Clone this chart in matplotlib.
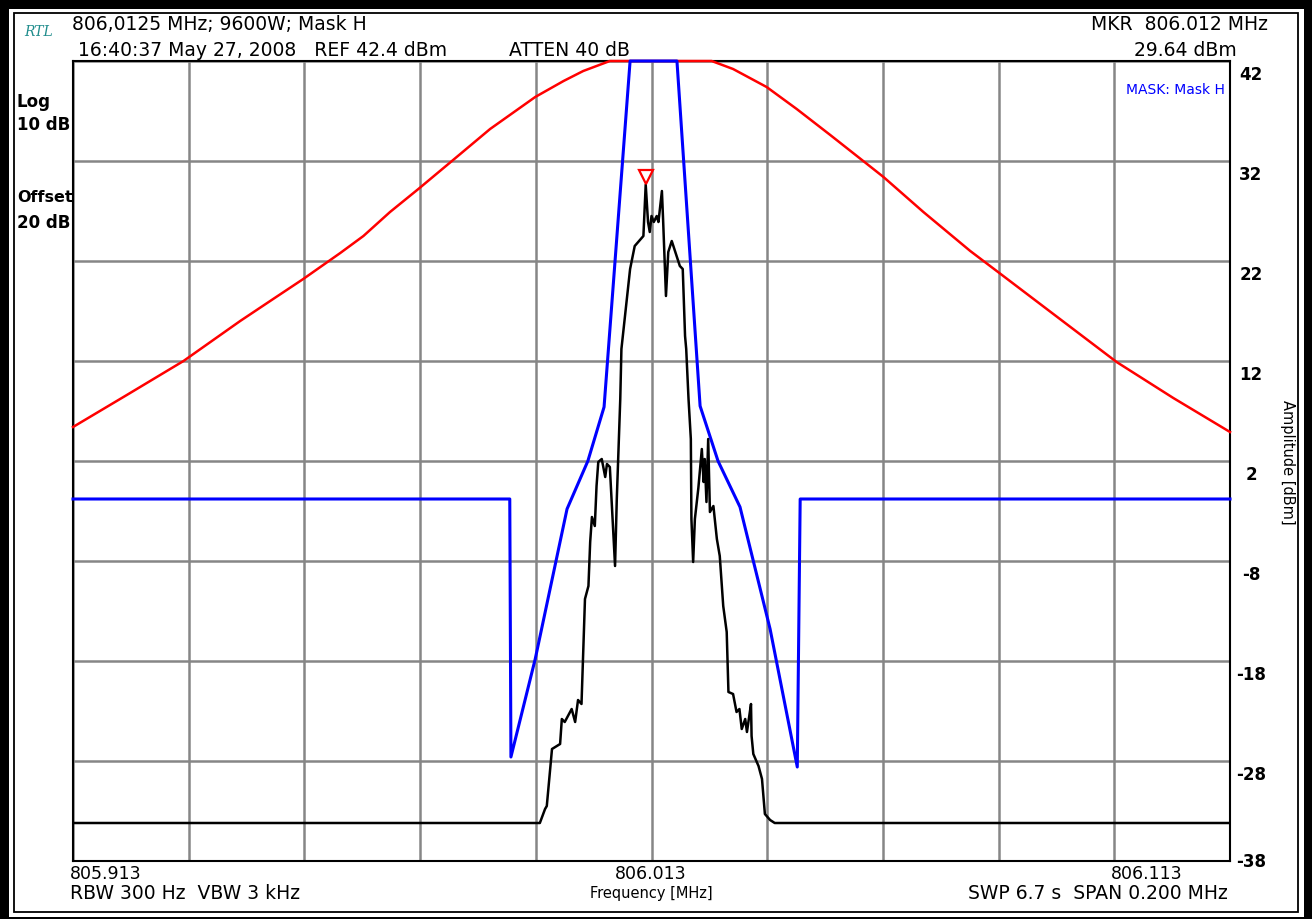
import numpy as np
import matplotlib.pyplot as plt
from matplotlib.patches import Rectangle
from matplotlib.transforms import ScaledTranslation

W, H = 1312, 920
plt.rcParams['font.family'] = ['DejaVu Sans']

# sweep settings
f_start, f_stop = 805.913, 806.113
ref_top, ref_bottom = 42, -38
x_ticks = [805.913, 806.013, 806.113]
y_ticks = [42, 32, 22, 12, 2, -8, -18, -28, -38]

# red reference curve (MHz, dBm)
ref_freq = [805.9130, 805.9223, 805.9321, 805.9419, 805.9476, 805.9528, 805.9592,
            805.9632, 805.9678, 805.9727, 805.9785, 805.9851, 805.9929, 805.9978,
            806.0012, 806.0035, 806.0058, 806.0234, 806.0271, 806.0329, 806.0381,
            806.0439, 806.0496, 806.0531, 806.0600, 806.0681, 806.0729, 806.0836,
            806.0934, 806.1032, 806.1130]
ref_amp = [5.4, 8.6, 12.0, 16.0, 18.2, 20.2, 22.8,
           24.5, 26.9, 29.2, 32.0, 35.2, 38.4, 40.0,
           41.0, 41.5, 42.0, 42.0, 41.2, 39.4, 37.2,
           34.6, 32.0, 30.4, 26.9, 23.0, 20.9, 16.2,
           11.9, 8.3, 4.9]

# mask H limit line
mask_freq = [805.9130, 805.9885, 805.9887, 805.9929, 805.9984, 806.0020, 806.0048,
             806.0093, 806.0174, 806.0214, 806.0245, 806.0283, 806.0335, 806.0382,
             806.0387, 806.1130]
mask_amp = [-1.8, -1.8, -27.6, -17.8, -2.8, 2.0, 7.4,
            42.0, 42.0, 7.5, 2.0, -2.6, -14.8, -28.6,
            -1.8, -1.8]

# measured spectrum trace
trace_freq = [805.9130, 805.9937, 805.9946, 805.9949, 805.9958, 805.9972, 805.9975,
              805.9980, 805.9992, 805.9998, 806.0003, 806.0009, 806.0015, 806.0021,
              806.0024, 806.0027, 806.0032, 806.0035, 806.0038, 806.0044, 806.0050,
              806.0053, 806.0058, 806.0067, 806.0070, 806.0076, 806.0078, 806.0093,
              806.0101, 806.0107, 806.0116, 806.0120, 806.0124, 806.0127, 806.0130,
              806.0134, 806.0139, 806.0142, 806.0148, 806.0150, 806.0155, 806.0159,
              806.0165, 806.0179, 806.0184, 806.0188, 806.0190, 806.0194, 806.0198,
              806.0199, 806.0202, 806.0205, 806.0211, 806.0217, 806.0220, 806.0222,
              806.0225, 806.0228, 806.0231, 806.0237, 806.0243, 806.0248, 806.0254,
              806.0260, 806.0263, 806.0271, 806.0277, 806.0282, 806.0286, 806.0292,
              806.0295, 806.0299, 806.0302, 806.0303, 806.0306, 806.0315, 806.0321,
              806.0326, 806.0335, 806.0343, 806.1130]
trace_amp = [-34.2, -34.2, -32.8, -32.5, -26.8, -26.3, -23.8,
             -24.1, -22.8, -24.1, -21.9, -22.3, -11.8, -10.5,
             -6.1, -3.6, -4.5, -0.5, 1.9, 2.2, 0.4,
             1.7, 1.4, -8.5, -1.8, 8.2, 13.2, 21.2,
             23.5, 23.9, 24.5, 29.64, 25.9, 24.9, 26.5,
             25.9, 26.5, 25.9, 29.0, 26.2, 18.5, 22.9,
             24.0, 21.5, 21.2, 14.5, 13.2, 8.2, 4.2,
             -3.8, -8.1, -3.8, -0.7, 3.2, -0.1, 2.2,
             -2.1, 4.2, -3.1, -2.5, -5.8, -7.5, -12.5,
             -15.1, -21.1, -21.3, -23.1, -22.8, -24.8, -23.8,
             -25.1, -23.5, -22.3, -25.5, -27.3, -28.5, -29.8,
             -33.3, -33.9, -34.2, -34.2]

mkr_freq, mkr_amp = 806.012, 29.64


def px(x, y):
    return x / W, 1 - y / H


fig = plt.figure(figsize=(W / 100, H / 100), dpi=100, facecolor='black')

# instrument frame: white panel inside black border, thin inner line
fig.add_artist(Rectangle(px(9, 918), (1304 - 9) / W, (918 - 10) / H,
                         transform=fig.transFigure, facecolor='white',
                         edgecolor='none', zorder=-2))
fig.add_artist(Rectangle(px(14, 913), (1298 - 14) / W, (913 - 14) / H,
                         transform=fig.transFigure, facecolor='none',
                         edgecolor='black', linewidth=1.3, zorder=-1))

ax = fig.add_axes([73 / W, 1 - 862 / H, (1230 - 73) / W, 800 / H])
ax.set_facecolor('white')
ax.set_xlim(f_start, f_stop)
ax.set_ylim(ref_bottom, ref_top)
ax.set_xticks(np.linspace(f_start, f_stop, 11))
ax.set_yticks(np.arange(ref_bottom, ref_top + 1, 10))
ax.tick_params(length=0, labelbottom=False, labelleft=False)
ax.grid(True, color='#868686', linewidth=1.8)
for s in ax.spines.values():
    s.set_linewidth(1.5)
    s.set_color('black')
    s.set_zorder(2.6)

ax.plot(ref_freq, ref_amp, color='#ff0000', lw=1.8, zorder=3, clip_on=False)
ax.plot(mask_freq, mask_amp, color='#0000ff', lw=2.2, zorder=3, clip_on=False)
ax.plot(trace_freq, trace_amp, color='black', lw=1.8, zorder=4)

# marker triangle sits just above the marked point
mk_trans = ax.transData + ScaledTranslation(0, 5.5 / 72, fig.dpi_scale_trans)
ax.plot([mkr_freq], [mkr_amp], marker='v', ms=9.5, mfc='none', mec='#ff0000',
        mew=1.6, transform=mk_trans, zorder=5)

# amplitude scale on the right
for v in y_ticks:
    y = 62 + (ref_top - v) * 10
    if v == ref_bottom:
        fig.text(*px(1251, y), str(v), ha='center', va='center',
                 fontsize=12, fontweight='bold')
    else:
        fig.text(*px(1251, y + 4), str(v), ha='center', va='top',
                 fontsize=12, fontweight='bold')
fig.text(*px(1287, 462), 'Amplitude [dBm]', rotation=-90, ha='center', va='center',
         fontsize=10.5)

# frequency labels
fig.text(*px(70, 874), f'{x_ticks[0]:.3f}', ha='left', va='center', fontsize=12.5)
fig.text(*px(651, 874), f'{x_ticks[1]:.3f}', ha='center', va='center', fontsize=12.5)
fig.text(*px(1147, 874), f'{x_ticks[2]:.3f}', ha='center', va='center', fontsize=12.5)
fig.text(*px(651, 894), 'Frequency [MHz]', ha='center', va='center', fontsize=10.5)
fig.text(*px(70, 894), 'RBW 300 Hz  VBW 3 kHz', ha='left', va='center', fontsize=13.5)
fig.text(*px(1228, 894), 'SWP 6.7 s  SPAN 0.200 MHz', ha='right', va='center',
         fontsize=13.5)

# header
fig.text(*px(24, 32), 'RTL', ha='left', va='center', fontsize=10,
         family='DejaVu Serif', style='italic', color='#1f8c8c')
fig.text(*px(72, 25), '806,0125 MHz; 9600W; Mask H', ha='left', va='center',
         fontsize=13.5)
fig.text(*px(78, 50), '16:40:37 May 27, 2008   REF 42.4 dBm', ha='left',
         va='center', fontsize=13.5)
fig.text(*px(509, 50), 'ATTEN 40 dB', ha='left', va='center', fontsize=13.5)
fig.text(*px(1268, 25), 'MKR  806.012 MHz', ha='right', va='center', fontsize=13.5)
fig.text(*px(1237, 50), f'{mkr_amp:.2f} dBm', ha='right', va='center', fontsize=13.5)
fig.text(*px(1225, 90), 'MASK: Mask H', ha='right', va='center', fontsize=10,
         color='#0000ff')

# scale settings at the left
fig.text(*px(17, 102), 'Log', ha='left', va='center', fontsize=12, fontweight='bold')
fig.text(*px(17, 125), '10 dB', ha='left', va='center', fontsize=12, fontweight='bold')
fig.text(*px(17, 197), 'Offset', ha='left', va='center', fontsize=11.5,
         fontweight='bold')
fig.text(*px(17, 223), '20 dB', ha='left', va='center', fontsize=12, fontweight='bold')

fig.savefig('out.png', dpi=100, facecolor='black')
